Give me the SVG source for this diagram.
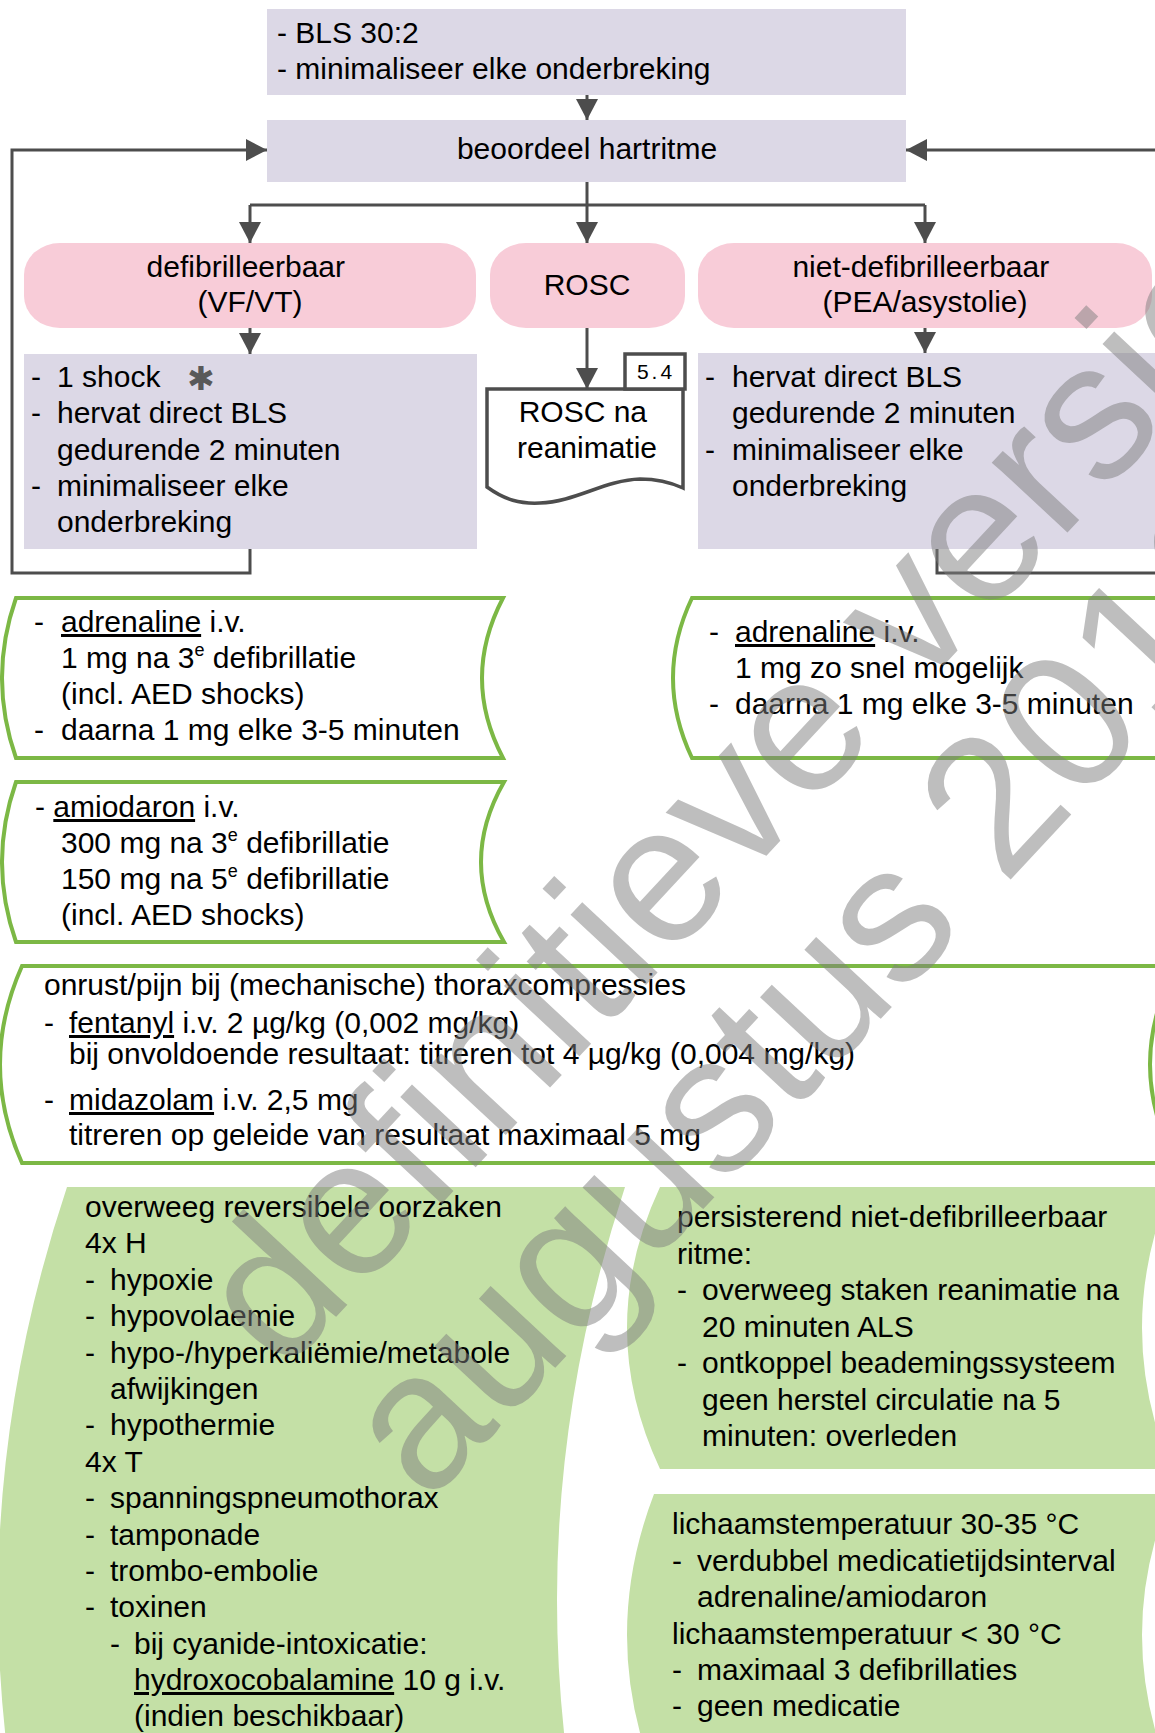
<svg xmlns="http://www.w3.org/2000/svg" width="1155" height="1733" viewBox="0 0 1155 1733">
  <style>
    .t { font-family: "Liberation Sans", Arial, sans-serif; font-size: 30px; fill: #000; }
    .c { text-anchor: middle; }
    .u { text-decoration: underline; }
    .sup { font-size: 18px; }
    .lav { fill: #dcd8e6; }
    .pink { fill: #f8ccd8; }
    .gbox { fill: #fff; stroke: #7cb845; stroke-width: 4; }
    .gfill { fill: #c4e0a6; }
    .conn { fill: none; stroke: #4d4d4d; stroke-width: 3; }
    .doc { fill: #fff; stroke: #4d4d4d; stroke-width: 3.5; }
    .wm { font-family: "Liberation Sans", Arial, sans-serif; font-size: 195px; fill: #7d7d7d; fill-opacity: 0.5; }
  </style>
  <defs>
    <marker id="arrow" viewBox="0 0 21 22" refX="21" refY="11" markerWidth="21" markerHeight="22" markerUnits="userSpaceOnUse" orient="auto">
      <path d="M0,0 L21,11 L0,22 Z" fill="#4d4d4d"/>
    </marker>
  </defs>

  <!-- green background panels at the bottom -->
  <g id="causes">
    <path class="gfill" d="M67,1187 H625 Q489,1600 625,2013 H67 Q-71,1600 67,1187 Z"/>
    <text class="t">
      <tspan x="85" y="1217">overweeg reversibele oorzaken</tspan>
      <tspan x="85" y="1253">4x H</tspan>
      <tspan x="85" y="1290">-</tspan><tspan x="110" y="1290">hypoxie</tspan>
      <tspan x="85" y="1326">-</tspan><tspan x="110" y="1326">hypovolaemie</tspan>
      <tspan x="85" y="1363">-</tspan><tspan x="110" y="1363">hypo-/hyperkaliëmie/metabole</tspan>
      <tspan x="110" y="1399">afwijkingen</tspan>
      <tspan x="85" y="1435">-</tspan><tspan x="110" y="1435">hypothermie</tspan>
      <tspan x="85" y="1472">4x T</tspan>
      <tspan x="85" y="1508">-</tspan><tspan x="110" y="1508">spanningspneumothorax</tspan>
      <tspan x="85" y="1545">-</tspan><tspan x="110" y="1545">tamponade</tspan>
      <tspan x="85" y="1581">-</tspan><tspan x="110" y="1581">trombo-embolie</tspan>
      <tspan x="85" y="1617">-</tspan><tspan x="110" y="1617">toxinen</tspan>
      <tspan x="110" y="1654">-</tspan><tspan x="134" y="1654">bij cyanide-intoxicatie:</tspan>
      <tspan x="134" y="1690" class="u">hydroxocobalamine</tspan><tspan> 10 g i.v.</tspan>
      <tspan x="134" y="1726">(indien beschikbaar)</tspan>
    </text>
  </g>

  <g id="persistent">
    <path class="gfill" d="M660,1187 H1171 Q1113,1328 1171,1469 H660 Q594,1328 660,1187 Z"/>
    <text class="t">
      <tspan x="677" y="1227">persisterend niet-defibrilleerbaar</tspan>
      <tspan x="677" y="1264">ritme:</tspan>
      <tspan x="677" y="1300">-</tspan><tspan x="702" y="1300">overweeg staken reanimatie na</tspan>
      <tspan x="702" y="1337">20 minuten ALS</tspan>
      <tspan x="677" y="1373">-</tspan><tspan x="702" y="1373">ontkoppel beademingssysteem</tspan>
      <tspan x="702" y="1410">geen herstel circulatie na 5</tspan>
      <tspan x="702" y="1446">minuten: overleden</tspan>
    </text>
  </g>

  <g id="temperature">
    <path class="gfill" d="M654,1494 H1171 Q1113,1635 1171,1776 H654 Q600,1635 654,1494 Z"/>
    <text class="t">
      <tspan x="672" y="1534">lichaamstemperatuur 30-35 °C</tspan>
      <tspan x="672" y="1571">-</tspan><tspan x="697" y="1571">verdubbel medicatietijdsinterval</tspan>
      <tspan x="697" y="1607">adrenaline/amiodaron</tspan>
      <tspan x="672" y="1644">lichaamstemperatuur &lt; 30 °C</tspan>
      <tspan x="672" y="1680">-</tspan><tspan x="697" y="1680">maximaal 3 defibrillaties</tspan>
      <tspan x="672" y="1716">-</tspan><tspan x="697" y="1716">geen medicatie</tspan>
    </text>
  </g>

  <!-- flow nodes -->
  <g id="bls">
    <rect class="lav" x="267" y="9" width="639" height="86"/>
    <text class="t">
      <tspan x="277" y="43">- BLS 30:2</tspan>
      <tspan x="277" y="79">- minimaliseer elke onderbreking</tspan>
    </text>
  </g>

  <g id="assess">
    <rect class="lav" x="267" y="120" width="639" height="62"/>
    <text class="t c" x="587" y="159">beoordeel hartritme</text>
  </g>

  <g id="shockable">
    <rect class="pink" x="24" y="243" width="452" height="85" rx="36" ry="32"/>
    <text class="t c">
      <tspan x="250" y="277">defibrilleerbaar</tspan>
      <tspan x="250" y="312">(VF/VT)</tspan>
    </text>
  </g>

  <g id="rosc">
    <rect class="pink" x="490" y="243" width="195" height="85" rx="36" ry="32"/>
    <text class="t c" x="587" y="295">ROSC</text>
  </g>

  <g id="nonshockable">
    <rect class="pink" x="698" y="243" width="454" height="85" rx="36" ry="32"/>
    <text class="t c">
      <tspan x="925" y="277">niet-defibrilleerbaar</tspan>
      <tspan x="925" y="312">(PEA/asystolie)</tspan>
    </text>
  </g>

  <g id="shock-actions">
    <rect class="lav" x="24" y="354" width="453" height="195"/>
    <text class="t">
      <tspan x="31" y="387">-</tspan><tspan x="57" y="387">1 shock</tspan>
      <tspan x="31" y="423">-</tspan><tspan x="57" y="423">hervat direct BLS</tspan>
      <tspan x="57" y="460">gedurende 2 minuten</tspan>
      <tspan x="31" y="496">-</tspan><tspan x="57" y="496">minimaliseer elke</tspan>
      <tspan x="57" y="532">onderbreking</tspan>
    </text>
    <text x="201" y="390" text-anchor="middle" font-family="DejaVu Sans, sans-serif" font-size="33" fill="#595959">✱</text>
  </g>

  <g id="rosc-doc">
    <path class="doc" d="M487,389 H683 V488 C672,483 660,479 640,479 C605,480 575,502 540,503 C520,504 505,500 487,487 Z"/>
    <rect class="doc" x="625" y="354" width="60" height="35"/>
    <text x="656" y="379" text-anchor="middle" font-family="Liberation Sans, Arial, sans-serif" font-size="21" letter-spacing="3" fill="#000">5.4</text>
    <text class="t c">
      <tspan x="587" y="422">ROSC na</tspan>
      <tspan x="587" y="458">reanimatie</tspan>
    </text>
  </g>

  <g id="nonshock-actions">
    <rect class="lav" x="698" y="353" width="470" height="196"/>
    <text class="t">
      <tspan x="705" y="387">-</tspan><tspan x="732" y="387">hervat direct BLS</tspan>
      <tspan x="732" y="423">gedurende 2 minuten</tspan>
      <tspan x="705" y="460">-</tspan><tspan x="732" y="460">minimaliseer elke</tspan>
      <tspan x="732" y="496">onderbreking</tspan>
    </text>
  </g>

  <!-- medication panels -->
  <g id="adrenaline-shock">
    <path class="gbox" d="M16,598 H503 Q461,678 503,758 H16 Q-12,678 16,598 Z"/>
    <text class="t">
      <tspan x="34" y="632">-</tspan><tspan x="61" y="632" class="u">adrenaline</tspan><tspan> i.v.</tspan>
      <tspan x="61" y="668">1 mg na 3</tspan><tspan class="sup" dy="-12">e</tspan><tspan dy="12"> defibrillatie</tspan>
      <tspan x="61" y="704">(incl. AED shocks)</tspan>
      <tspan x="34" y="740">-</tspan><tspan x="61" y="740">daarna 1 mg elke 3-5 minuten</tspan>
    </text>
  </g>

  <g id="adrenaline-nonshock">
    <path class="gbox" d="M692,598 H1180 V758 H692 Q654,678 692,598 Z"/>
    <text class="t">
      <tspan x="709" y="642">-</tspan><tspan x="735" y="642" class="u">adrenaline</tspan><tspan> i.v.</tspan>
      <tspan x="735" y="678">1 mg zo snel mogelijk</tspan>
      <tspan x="709" y="714">-</tspan><tspan x="735" y="714">daarna 1 mg elke 3-5 minuten</tspan>
    </text>
  </g>

  <g id="amiodarone">
    <path class="gbox" d="M16,782 H504 Q458,862 504,942 H16 Q-12,862 16,782 Z"/>
    <text class="t">
      <tspan x="35" y="817">- </tspan><tspan class="u">amiodaron</tspan><tspan> i.v.</tspan>
      <tspan x="61" y="853">300 mg na 3</tspan><tspan class="sup" dy="-12">e</tspan><tspan dy="12"> defibrillatie</tspan>
      <tspan x="61" y="889">150 mg na 5</tspan><tspan class="sup" dy="-12">e</tspan><tspan dy="12"> defibrillatie</tspan>
      <tspan x="61" y="925">(incl. AED shocks)</tspan>
    </text>
  </g>

  <g id="sedation">
    <path class="gbox" d="M22,966 H1176 Q1124,1064.5 1176,1163 H22 Q-22,1064.5 22,966 Z"/>
    <text class="t">
      <tspan x="44" y="995">onrust/pijn bij (mechanische) thoraxcompressies</tspan>
      <tspan x="44" y="1033">-</tspan><tspan x="69" y="1033" class="u">fentanyl</tspan><tspan> i.v. 2 µg/kg (0,002 mg/kg)</tspan>
      <tspan x="69" y="1064">bij onvoldoende resultaat: titreren tot 4 µg/kg (0,004 mg/kg)</tspan>
      <tspan x="44" y="1110">-</tspan><tspan x="69" y="1110" class="u">midazolam</tspan><tspan> i.v. 2,5 mg</tspan>
      <tspan x="69" y="1145">titreren op geleide van resultaat maximaal 5 mg</tspan>
    </text>
  </g>

  <!-- connectors -->
  <g id="connectors">
    <path class="conn" d="M587,95 V120" marker-end="url(#arrow)"/>
    <path class="conn" d="M587,182 V243" marker-end="url(#arrow)"/>
    <path class="conn" d="M250,205 H925"/>
    <path class="conn" d="M250,205 V243" marker-end="url(#arrow)"/>
    <path class="conn" d="M925,205 V243" marker-end="url(#arrow)"/>
    <path class="conn" d="M250,328 V354" marker-end="url(#arrow)"/>
    <path class="conn" d="M925,328 V353" marker-end="url(#arrow)"/>
    <path class="conn" d="M587,328 V389" marker-end="url(#arrow)"/>
    <path class="conn" d="M250,549 V573 H12 V150 H267" marker-end="url(#arrow)"/>
    <path class="conn" d="M937,549 V573 H1170 V150 H906" marker-end="url(#arrow)"/>
  </g>

  <!-- status stamp across the page -->
  <g id="watermark" transform="translate(282,1375) rotate(-47)">
    <text class="wm" x="0" y="0">definitieve versie</text>
    <text class="wm" x="4" y="195">augustus 2016</text>
  </g>
</svg>
